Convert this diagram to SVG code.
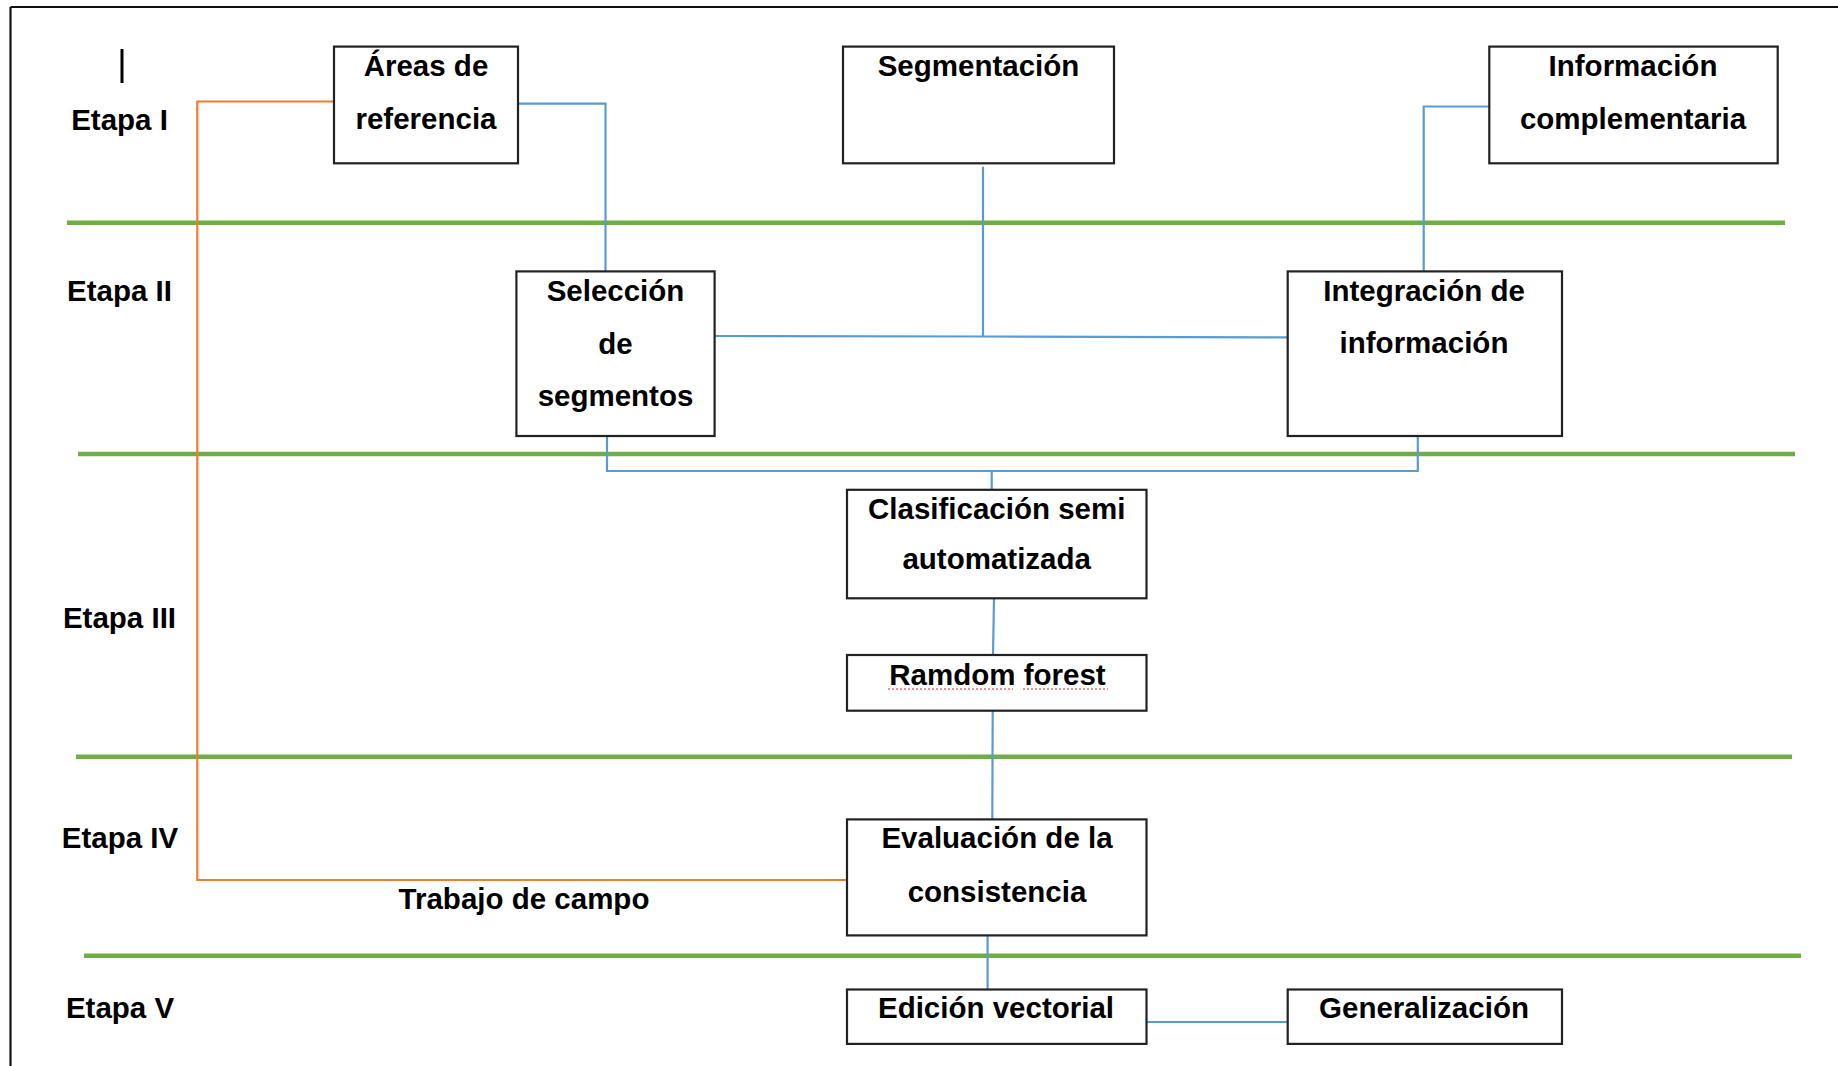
<svg xmlns="http://www.w3.org/2000/svg" width="1838" height="1066" viewBox="0 0 1838 1066">
<style>
.box{fill:#fff;stroke:#222;stroke-width:2.2}
.t{font-family:"Liberation Sans",Arial,sans-serif;font-weight:bold;font-size:29.5px;fill:#000;text-anchor:middle}
.blue{fill:none;stroke:#5B9BD5;stroke-width:2.2}
.orange{fill:none;stroke:#ED7D31;stroke-width:2.2}
.green{stroke:#70AD47;stroke-width:4.5}
.spell{fill:none;stroke:#E02020;stroke-width:1.2;stroke-dasharray:2 2}
</style>
<rect width="1838" height="1066" fill="#fff"/>
<g id="frame">
<line x1="10.5" y1="7" x2="1838" y2="7" stroke="#111" stroke-width="2.2"/>
<line x1="10.5" y1="7" x2="10.5" y2="1066" stroke="#111" stroke-width="2.2"/>
<line x1="122" y1="49" x2="122" y2="83" stroke="#000" stroke-width="3"/>
</g>
<g id="separators">
<line class="green" x1="67" y1="222.8" x2="1785" y2="222.8"/>
<line class="green" x1="78" y1="454" x2="1795" y2="454"/>
<line class="green" x1="76" y1="756.8" x2="1792" y2="756.8"/>
<line class="green" x1="84" y1="955.8" x2="1801" y2="955.8"/>
</g>
<g id="stage-labels">
<text class="t" x="119.5" y="130">Etapa I</text>
<text class="t" x="119.5" y="301">Etapa II</text>
<text class="t" x="119.5" y="628">Etapa III</text>
<text class="t" x="120" y="848">Etapa IV</text>
<text class="t" x="120" y="1018">Etapa V</text>
</g>
<g id="connectors">
<polyline class="orange" points="334,101.5 197.3,101.5 197.3,880 847,880"/>
<polyline class="blue" points="518,103.7 605.5,103.7 605.5,271.4"/>
<polyline class="blue" points="1489.3,106.5 1423.7,106.5 1423.7,271.4"/>
<line class="blue" x1="983" y1="166.7" x2="983" y2="336.5"/>
<polyline class="blue" points="714.6,336 983,336.5 1287.7,337.4"/>
<polyline class="blue" points="607,436 607,471 1417.8,471 1417.8,436"/>
<line class="blue" x1="991.7" y1="471" x2="991.7" y2="489.8"/>
<line class="blue" x1="994" y1="598.3" x2="993" y2="655"/>
<line class="blue" x1="992.7" y1="710.7" x2="992.3" y2="819.4"/>
<line class="blue" x1="987.6" y1="935.4" x2="987.6" y2="989.5"/>
<line class="blue" x1="1146.5" y1="1022" x2="1287.7" y2="1022"/>
<text class="t" x="524" y="909">Trabajo de campo</text>
</g>
<g id="areas-referencia">
<rect class="box" x="334" y="46.6" width="184" height="116.7"/>
<text class="t" x="426" y="76">Áreas de</text>
<text class="t" x="426" y="129">referencia</text>
</g>
<g id="segmentacion">
<rect class="box" x="843" y="46.6" width="271" height="116.7"/>
<text class="t" x="978.5" y="76">Segmentación</text>
</g>
<g id="informacion-complementaria">
<rect class="box" x="1489.3" y="46.6" width="288.4" height="116.7"/>
<text class="t" x="1633" y="76">Información</text>
<text class="t" x="1633" y="129">complementaria</text>
</g>
<g id="seleccion-segmentos">
<rect class="box" x="516.4" y="271.4" width="198.2" height="164.6"/>
<text class="t" x="615.5" y="301">Selección</text>
<text class="t" x="615.5" y="354">de</text>
<text class="t" x="615.5" y="406">segmentos</text>
</g>
<g id="integracion-informacion">
<rect class="box" x="1287.7" y="271.4" width="274.3" height="164.6"/>
<text class="t" x="1424" y="301">Integración de</text>
<text class="t" x="1424" y="353">información</text>
</g>
<g id="clasificacion">
<rect class="box" x="847" y="489.8" width="299.5" height="108.5"/>
<text class="t" x="996.7" y="519">Clasificación semi</text>
<text class="t" x="996.7" y="569">automatizada</text>
</g>
<g id="random-forest">
<rect class="box" x="847" y="655" width="299.5" height="55.7"/>
<text class="t" x="997.5" y="685">Ramdom forest</text>
<line class="spell" x1="888" y1="689" x2="1013" y2="689"/>
<line class="spell" x1="1023" y1="689" x2="1108" y2="689"/>
</g>
<g id="evaluacion">
<rect class="box" x="847" y="819.4" width="299.5" height="116"/>
<text class="t" x="997" y="848">Evaluación de la</text>
<text class="t" x="997" y="902">consistencia</text>
</g>
<g id="edicion-vectorial">
<rect class="box" x="847" y="989.5" width="299.5" height="54.4"/>
<text class="t" x="996" y="1018">Edición vectorial</text>
</g>
<g id="generalizacion">
<rect class="box" x="1287.7" y="989.5" width="274.3" height="54.4"/>
<text class="t" x="1424" y="1018">Generalización</text>
</g>
</svg>
